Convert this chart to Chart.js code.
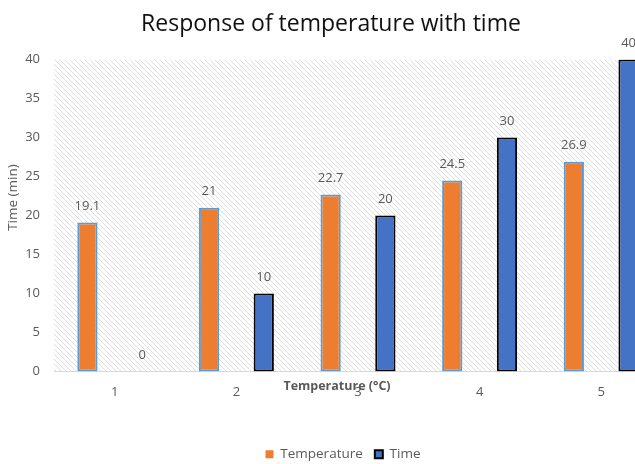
<!DOCTYPE html>
<html>
<head>
<meta charset="utf-8">
<script src="https://cdn.jsdelivr.net/npm/chart.js@4"></script>
<style>
  html, body { margin: 0; padding: 0; overflow: hidden; background: #fff; }
  #wrap { width: 662px; height: 464px; }
</style>
</head>
<body>
<div id="wrap"><canvas id="chart"></canvas></div>
<script>
// data
const categories = ["1", "2", "3", "4", "5"];
const temperature = [19.1, 21, 22.7, 24.5, 26.9];
const time = [0, 10, 20, 30, 40];
const yTicks = [0, 5, 10, 15, 20, 25, 30, 35, 40];

const FONT = "'Open Sans', 'Noto Sans', sans-serif";
const GREY = "#595959";

// diagonal hatch for the plot area
function makeHatch(ctx) {
  const c = document.createElement("canvas");
  c.width = 5; c.height = 5;
  const g = c.getContext("2d");
  g.strokeStyle = "#dedede";
  g.lineWidth = 1;
  g.beginPath();
  g.moveTo(-1, -1); g.lineTo(6, 6);
  g.moveTo(-1, 4); g.lineTo(1, 6);
  g.moveTo(4, -1); g.lineTo(6, 1);
  g.stroke();
  return ctx.createPattern(c, "repeat");
}

const hatchBg = {
  id: "hatchBg",
  beforeDraw(chart) {
    const { ctx, chartArea } = chart;
    ctx.save();
    ctx.fillStyle = makeHatch(ctx);
    ctx.fillRect(chartArea.left, chartArea.top, chartArea.right - chartArea.left, chartArea.bottom - chartArea.top);
    ctx.restore();
  }
};

// value labels above bars + axis titles (placed off-centre like the original)
const valueLabels = {
  id: "valueLabels",
  afterDatasetsDraw(chart) {
    const ctx = chart.ctx;
    ctx.save();
    ctx.font = "13px " + FONT;
    ctx.fillStyle = GREY;
    ctx.textAlign = "center";
    ctx.textBaseline = "middle";
    chart.data.datasets.forEach((ds, i) => {
      chart.getDatasetMeta(i).data.forEach((bar, j) => {
        ctx.fillText(String(ds.data[j]), bar.x, bar.y - 16);
      });
    });
    const xs = chart.scales.x;
    ctx.font = "bold 12.5px " + FONT;
    ctx.fillText("Temperature (°C)", (xs.left + xs.right) / 2 - 21, xs.top + 15);

    const ys = chart.scales.y;
    ctx.translate(ys.left + 13, (ys.top + ys.bottom) / 2 - 18);
    ctx.rotate(-Math.PI / 2);
    ctx.font = "13.5px " + FONT;
    ctx.fillText("Time (min)", 0, 0);
    ctx.restore();
  }
};

const shiftLegend = {
  id: "shiftLegend",
  afterLayout(chart) {
    chart.legend.left += 12;
    chart.legend.right += 12;
  }
};

new Chart(document.getElementById("chart"), {
  type: "bar",
  data: {
    labels: categories,
    datasets: [
      {
        label: "Temperature",
        data: temperature,
        backgroundColor: "#ED7D31",
        borderColor: "#5B9BD5",
        borderWidth: 2,
        borderSkipped: false
      },
      {
        label: "Time",
        data: time,
        backgroundColor: "#4472C4",
        borderColor: "#000000",
        borderWidth: 2,
        borderSkipped: false
      }
    ]
  },
  options: {
    responsive: true,
    maintainAspectRatio: false,
    animation: false,
    categoryPercentage: 0.9,
    barPercentage: 0.37,
    layout: { padding: { left: 0, right: 0, top: 0, bottom: -7 } },
    plugins: {
      title: {
        display: true,
        text: "Response of temperature with time",
        color: "#111",
        font: { family: FONT, size: 23, weight: "normal" },
        padding: { top: 11, bottom: 21 }
      },
      legend: {
        position: "bottom",
        labels: {
          color: GREY,
          font: { family: FONT, size: 13.5 },
          boxWidth: 8,
          boxHeight: 8,
          padding: 12,
          generateLabels(chart) {
            return chart.data.datasets.map((ds, i) => ({
              text: ds.label,
              fillStyle: ds.backgroundColor,
              strokeStyle: i === 0 ? ds.backgroundColor : "#000",
              lineWidth: i === 0 ? 0 : 2,
              datasetIndex: i,
              fontColor: GREY
            }));
          }
        }
      },
      tooltip: { enabled: false }
    },
    scales: {
      x: {
        grid: { display: false },
        border: { color: "#d9d9d9", width: 1 },
        ticks: { color: GREY, font: { family: FONT, size: 13 }, padding: 5 },
        afterFit(scale) { scale.height = 64; }
      },
      y: {
        min: 0,
        max: 40,
        afterBuildTicks(scale) { scale.ticks = yTicks.map(v => ({ value: v })); },
        grid: { display: false },
        border: { display: false },
        ticks: { color: GREY, font: { family: FONT, size: 13 }, padding: 6 },
        afterFit(scale) { scale.width = 54; }
      }
    }
  },
  plugins: [hatchBg, valueLabels, shiftLegend]
});
</script>
</body>
</html>
